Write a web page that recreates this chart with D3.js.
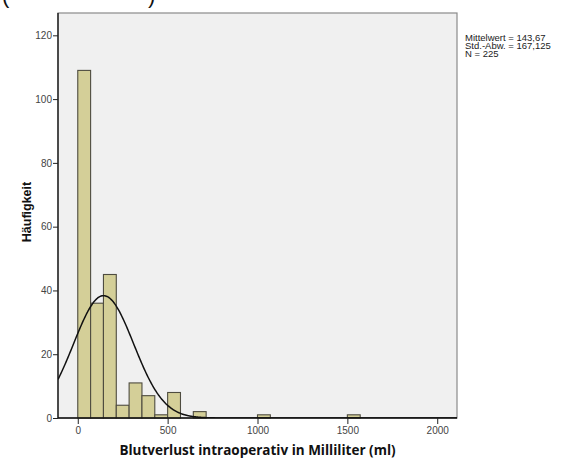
<!DOCTYPE html>
<html>
<head>
<meta charset="utf-8">
<script src="https://cdn.jsdelivr.net/npm/d3@7"></script>
<style>
  html, body { margin: 0; padding: 0; background: #ffffff; }
  svg { display: block; }
</style>
</head>
<body>
<svg id="chart" width="561" height="461"></svg>
<script>
// Histogram of intraoperative blood loss with fitted normal curve
const binWidth = 500 / 7;                       // ml per bin
const binStarts = [0, 1, 2, 3, 4, 5, 6, 7, 9, 14, 21];   // bin index
const binCounts = [109, 36, 45, 4, 11, 7, 1, 8, 2, 1, 1];
const xTicks = [0, 500, 1000, 1500, 2000];
const yTicks = [0, 20, 40, 60, 80, 100, 120];
const statLines = ["Mittelwert = 143,67", "Std.-Abw. = 167,125", "N = 225"];
const mean = 143.67, sd = 167.125, n = 225;

const svg = d3.select("#chart");
const frame = { left: 58, right: 457, top: 13, bottom: 418 };

const x = d3.scaleLinear().domain([-110, 2110]).range([frame.left, frame.right]);
const y = d3.scaleLinear().domain([0, 127]).range([frame.bottom, frame.top]);

// plot area
svg.append("rect")
  .attr("x", frame.left).attr("y", frame.top)
  .attr("width", frame.right - frame.left).attr("height", frame.bottom - frame.top)
  .attr("fill", "#f0f0f0").attr("stroke", "#8a8a8a").attr("stroke-width", 1.2);

svg.append("defs").append("clipPath").attr("id", "plotClip")
  .append("rect")
  .attr("x", frame.left).attr("y", frame.top)
  .attr("width", frame.right - frame.left).attr("height", frame.bottom - frame.top);

// bars
const bins = binStarts.map((b, i) => ({ x0: b * binWidth, x1: (b + 1) * binWidth, count: binCounts[i] }));
svg.append("g").selectAll("rect").data(bins).join("rect")
  .attr("x", d => x(d.x0))
  .attr("y", d => y(d.count))
  .attr("width", d => x(d.x1) - x(d.x0))
  .attr("height", d => y(0) - y(d.count))
  .attr("fill", "#d4cf98")
  .attr("stroke", "#4e4c40")
  .attr("stroke-width", 1.1);

// normal curve scaled to counts
const curvePts = d3.range(-110, 2111, 5).map(v => {
  const z = (v - mean) / sd;
  return [v, n * binWidth / (sd * Math.sqrt(2 * Math.PI)) * Math.exp(-0.5 * z * z)];
});
svg.append("path")
  .datum(curvePts)
  .attr("clip-path", "url(#plotClip)")
  .attr("fill", "none").attr("stroke", "#111").attr("stroke-width", 1.5)
  .attr("d", d3.line().x(d => x(d[0])).y(d => y(d[1])).curve(d3.curveBasis));

// axes
const xAxis = svg.append("g").attr("transform", `translate(0,${frame.bottom})`)
  .call(d3.axisBottom(x).tickValues(xTicks).tickFormat(d3.format("d"))
    .tickSize(6).tickSizeOuter(0).tickPadding(3));
const yAxis = svg.append("g").attr("transform", `translate(${frame.left},0)`)
  .call(d3.axisLeft(y).tickValues(yTicks).tickFormat(d3.format("d"))
    .tickSize(5).tickSizeOuter(0).tickPadding(1));
[xAxis, yAxis].forEach(g => {
  g.select(".domain").attr("stroke", "#111").attr("stroke-width", 1.3);
  g.selectAll(".tick line").attr("stroke", "#222").attr("stroke-width", 1);
  g.selectAll(".tick text").attr("fill", "#444")
    .style("font-family", "'Liberation Sans', Arial, sans-serif").style("font-size", "10px");
});
yAxis.select(".domain").attr("d", `M0,${frame.bottom}V${frame.top}`);
xAxis.select(".domain").attr("d", `M${frame.left},0H${frame.right}`);

// axis titles
svg.append("text")
  .attr("transform", "translate(30.5,212) rotate(-90)")
  .attr("text-anchor", "middle")
  .style("font-family", "'Liberation Sans', Arial, sans-serif")
  .style("font-weight", "bold").style("font-size", "12.5px").attr("fill", "#111")
  .text("Häufigkeit");

svg.append("text")
  .attr("x", (frame.left + frame.right) / 2).attr("y", 455)
  .attr("text-anchor", "middle")
  .style("font-family", "'Open Sans', sans-serif")
  .style("font-weight", "bold").style("font-size", "13.5px").attr("fill", "#111")
  .text("Blutverlust intraoperativ in Milliliter (ml)");

// summary statistics
svg.append("g").selectAll("text").data(statLines).join("text")
  .attr("x", 465).attr("y", (d, i) => 41 + i * 8)
  .style("font-family", "'Liberation Sans', Arial, sans-serif").style("font-size", "9.5px")
  .attr("fill", "#222")
  .text(d => d);

// heading fragments at the top edge
svg.append("g").selectAll("text").data([["(", 2], [")", 148]]).join("text")
  .attr("x", d => d[1]).attr("y", 3)
  .style("font-family", "'Liberation Sans', Arial, sans-serif").style("font-size", "22px")
  .attr("fill", "#111")
  .text(d => d[0]);
</script>
</body>
</html>
